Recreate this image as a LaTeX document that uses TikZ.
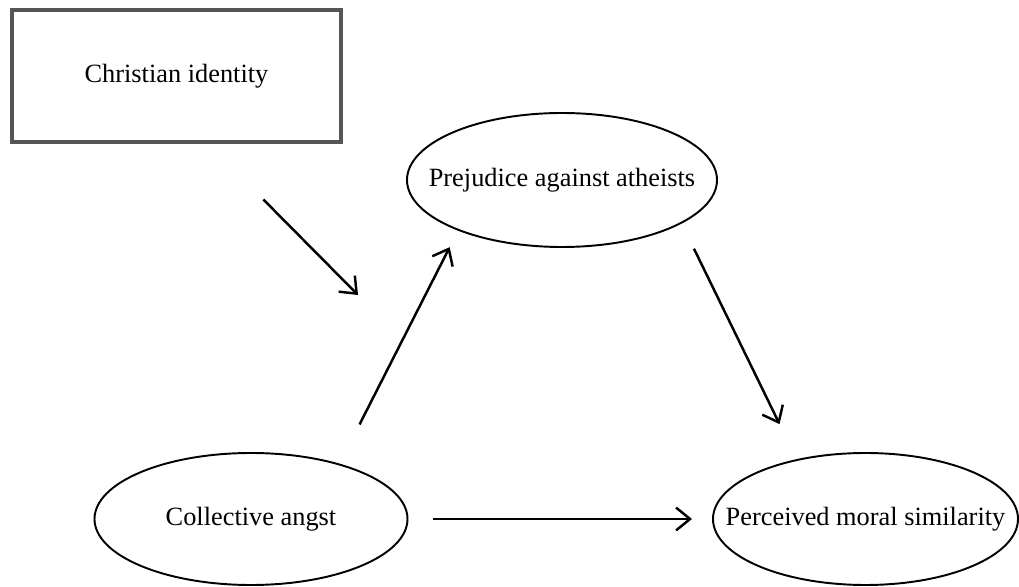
\documentclass[tikz,border=0pt]{standalone}
\usepackage{fontspec}
\setmainfont{Liberation Serif}
\usepackage{tikz}
\usetikzlibrary{arrows.meta,shapes.geometric}
\definecolor{boxline}{RGB}{85,85,85}
\tikzset{
  varbox/.style={draw=boxline,line width=2pt,minimum width=329*0.02cm,minimum height=132*0.02cm,inner sep=0pt},
  varoval/.style={ellipse,draw,line width=1.1pt,inner sep=0pt,label={center:#1}},
  path/.style={line width=1.4pt,-{Straight Barb[length=8pt,width=13pt,line width=1.4pt]}}
}

\begin{document}
\begin{tikzpicture}[x=0.02cm,y=-0.02cm,font=\fontsize{15}{18}\selectfont]
  \useasboundingbox (0,0) rectangle (1019,587);
  % variables
  \node[varbox] (ident) at (176.5,76) {Christian identity};
  \node[varoval={Prejudice against atheists},minimum width=310*0.02cm,minimum height=134*0.02cm] (prej) at (562,180) {};
  \node[varoval={Collective angst},minimum width=313*0.02cm,minimum height=132*0.02cm] (angst) at (251,519) {};
  \node[varoval={Perceived moral similarity},minimum width=305*0.02cm,minimum height=132*0.02cm] (moral) at (865.5,519) {};
  % moderation target
  \coordinate (mod) at (358,295);
  % paths
  \draw[path,shorten <=1.57cm] (ident.295.7) -- (mod);
  \draw[path,shorten <=0.88cm,shorten >=0.37cm] (angst.32.5) -- (prej.206.5);
  \draw[path,shorten <=0.56cm,shorten >=0.78cm] (prej.340.9) -- (moral.139.4);
  \draw[path,shorten <=0.49cm,shorten >=0.4cm] (angst.east) -- (moral.west);
\end{tikzpicture}
\end{document}
